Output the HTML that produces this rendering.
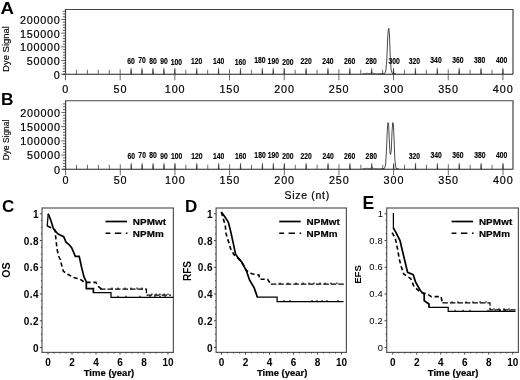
<!DOCTYPE html><html><head><meta charset="utf-8"><style>html,body{margin:0;padding:0;background:#fff}svg{display:block;filter:grayscale(1)}text{font-family:"Liberation Sans",sans-serif;fill:#000}</style></head><body>
<svg width="520" height="380" viewBox="0 0 520 380">
<rect width="520" height="380" fill="#fff"/>
<path d="M65.5 74.25 V9.5 H513 V74.25" fill="none" stroke="#444" stroke-width="1.2"/>
<path d="M62.5 74.25 H513" fill="none" stroke="#222" stroke-width="1.1"/>
<path d="M61.30 74.25H65.5M62.80 71.51H65.5M62.80 68.77H65.5M62.80 66.03H65.5M62.80 63.29H65.5M61.30 60.55H65.5M62.80 57.81H65.5M62.80 55.07H65.5M62.80 52.33H65.5M62.80 49.59H65.5M61.30 46.85H65.5M62.80 44.11H65.5M62.80 41.37H65.5M62.80 38.63H65.5M62.80 35.89H65.5M61.30 33.15H65.5M62.80 30.41H65.5M62.80 27.67H65.5M62.80 24.93H65.5M62.80 22.19H65.5M61.30 19.45H65.5M62.80 16.71H65.5M62.80 13.97H65.5M62.80 11.23H65.5" stroke="#333" stroke-width="0.8" fill="none"/>
<text x="60.6" y="78.65" font-size="10.8" text-anchor="end" letter-spacing="0.75" fill="#000" stroke="#000" stroke-width="0.2">0</text>
<text x="60.6" y="64.95" font-size="10.8" text-anchor="end" letter-spacing="0.75" fill="#000" stroke="#000" stroke-width="0.2">50000</text>
<text x="60.6" y="51.25" font-size="10.8" text-anchor="end" letter-spacing="0.75" fill="#000" stroke="#000" stroke-width="0.2">100000</text>
<text x="60.6" y="37.55" font-size="10.8" text-anchor="end" letter-spacing="0.75" fill="#000" stroke="#000" stroke-width="0.2">150000</text>
<text x="60.6" y="23.85" font-size="10.8" text-anchor="end" letter-spacing="0.75" fill="#000" stroke="#000" stroke-width="0.2">200000</text>
<path d="M65.50 69.25V80.25M76.44 69.75V74.25M87.37 69.75V74.25M98.31 69.75V74.25M109.24 69.75V74.25M120.17 69.25V80.25M131.11 69.75V74.25M142.04 69.75V74.25M152.98 69.75V74.25M163.91 69.75V74.25M174.85 69.25V80.25M185.78 69.75V74.25M196.72 69.75V74.25M207.66 69.75V74.25M218.59 69.75V74.25M229.52 69.25V80.25M240.46 69.75V74.25M251.39 69.75V74.25M262.33 69.75V74.25M273.26 69.75V74.25M284.20 69.25V80.25M295.13 69.75V74.25M306.07 69.75V74.25M317.00 69.75V74.25M327.94 69.75V74.25M338.88 69.25V80.25M349.81 69.75V74.25M360.75 69.75V74.25M371.68 69.75V74.25M382.61 69.75V74.25M393.55 69.25V80.25M404.48 69.75V74.25M415.42 69.75V74.25M426.35 69.75V74.25M437.29 69.75V74.25M448.22 69.25V80.25M459.16 69.75V74.25M470.09 69.75V74.25M481.03 69.75V74.25M491.96 69.75V74.25M502.90 69.25V80.25" stroke="#444" stroke-width="0.8" fill="none"/>
<text x="65.80" y="92.8" font-size="10.8" text-anchor="middle" letter-spacing="0.9" fill="#000" stroke="#000" stroke-width="0.2">0</text>
<text x="120.47" y="92.8" font-size="10.8" text-anchor="middle" letter-spacing="0.9" fill="#000" stroke="#000" stroke-width="0.2">50</text>
<text x="175.15" y="92.8" font-size="10.8" text-anchor="middle" letter-spacing="0.9" fill="#000" stroke="#000" stroke-width="0.2">100</text>
<text x="229.82" y="92.8" font-size="10.8" text-anchor="middle" letter-spacing="0.9" fill="#000" stroke="#000" stroke-width="0.2">150</text>
<text x="284.50" y="92.8" font-size="10.8" text-anchor="middle" letter-spacing="0.9" fill="#000" stroke="#000" stroke-width="0.2">200</text>
<text x="339.18" y="92.8" font-size="10.8" text-anchor="middle" letter-spacing="0.9" fill="#000" stroke="#000" stroke-width="0.2">250</text>
<text x="393.85" y="92.8" font-size="10.8" text-anchor="middle" letter-spacing="0.9" fill="#000" stroke="#000" stroke-width="0.2">300</text>
<text x="448.52" y="92.8" font-size="10.8" text-anchor="middle" letter-spacing="0.9" fill="#000" stroke="#000" stroke-width="0.2">350</text>
<text x="503.20" y="92.8" font-size="10.8" text-anchor="middle" letter-spacing="0.9" fill="#000" stroke="#000" stroke-width="0.2">400</text>
<text transform="translate(131.11 63.95) scale(0.8 1)" font-size="8.5" font-weight="bold" text-anchor="middle" fill="#000" stroke="#000" stroke-width="0.15">60</text>
<text transform="translate(142.04 63.15) scale(0.8 1)" font-size="8.5" font-weight="bold" text-anchor="middle" fill="#000" stroke="#000" stroke-width="0.15">70</text>
<text transform="translate(152.98 63.55) scale(0.8 1)" font-size="8.5" font-weight="bold" text-anchor="middle" fill="#000" stroke="#000" stroke-width="0.15">80</text>
<text transform="translate(163.91 64.25) scale(0.8 1)" font-size="8.5" font-weight="bold" text-anchor="middle" fill="#000" stroke="#000" stroke-width="0.15">90</text>
<text transform="translate(176.45 64.65) scale(0.8 1)" font-size="8.5" font-weight="bold" text-anchor="middle" fill="#000" stroke="#000" stroke-width="0.15">100</text>
<text transform="translate(196.72 63.95) scale(0.8 1)" font-size="8.5" font-weight="bold" text-anchor="middle" fill="#000" stroke="#000" stroke-width="0.15">120</text>
<text transform="translate(218.59 63.95) scale(0.8 1)" font-size="8.5" font-weight="bold" text-anchor="middle" fill="#000" stroke="#000" stroke-width="0.15">140</text>
<text transform="translate(240.46 64.65) scale(0.8 1)" font-size="8.5" font-weight="bold" text-anchor="middle" fill="#000" stroke="#000" stroke-width="0.15">160</text>
<text transform="translate(259.93 63.45) scale(0.8 1)" font-size="8.5" font-weight="bold" text-anchor="middle" fill="#000" stroke="#000" stroke-width="0.15">180</text>
<text transform="translate(273.26 63.75) scale(0.8 1)" font-size="8.5" font-weight="bold" text-anchor="middle" fill="#000" stroke="#000" stroke-width="0.15">190</text>
<text transform="translate(287.80 64.65) scale(0.8 1)" font-size="8.5" font-weight="bold" text-anchor="middle" fill="#000" stroke="#000" stroke-width="0.15">200</text>
<text transform="translate(306.07 64.15) scale(0.8 1)" font-size="8.5" font-weight="bold" text-anchor="middle" fill="#000" stroke="#000" stroke-width="0.15">220</text>
<text transform="translate(327.94 64.25) scale(0.8 1)" font-size="8.5" font-weight="bold" text-anchor="middle" fill="#000" stroke="#000" stroke-width="0.15">240</text>
<text transform="translate(349.55 64.25) scale(0.8 1)" font-size="8.5" font-weight="bold" text-anchor="middle" fill="#000" stroke="#000" stroke-width="0.15">260</text>
<text transform="translate(371.16 64.25) scale(0.8 1)" font-size="8.5" font-weight="bold" text-anchor="middle" fill="#000" stroke="#000" stroke-width="0.15">280</text>
<text transform="translate(394.15 64.25) scale(0.8 1)" font-size="8.5" font-weight="bold" text-anchor="middle" fill="#000" stroke="#000" stroke-width="0.15">300</text>
<text transform="translate(414.38 64.15) scale(0.8 1)" font-size="8.5" font-weight="bold" text-anchor="middle" fill="#000" stroke="#000" stroke-width="0.15">320</text>
<text transform="translate(435.99 63.35) scale(0.8 1)" font-size="8.5" font-weight="bold" text-anchor="middle" fill="#000" stroke="#000" stroke-width="0.15">340</text>
<text transform="translate(457.86 63.35) scale(0.8 1)" font-size="8.5" font-weight="bold" text-anchor="middle" fill="#000" stroke="#000" stroke-width="0.15">360</text>
<text transform="translate(479.73 63.45) scale(0.8 1)" font-size="8.5" font-weight="bold" text-anchor="middle" fill="#000" stroke="#000" stroke-width="0.15">380</text>
<text transform="translate(501.60 63.45) scale(0.8 1)" font-size="8.5" font-weight="bold" text-anchor="middle" fill="#000" stroke="#000" stroke-width="0.15">400</text>
<path d="M130.66 74.25L131.11 68.05L131.56 74.25M141.59 74.25L142.04 68.05L142.49 74.25M152.53 74.25L152.98 68.05L153.43 74.25M163.47 74.25L163.91 68.05L164.36 74.25M174.40 74.25L174.85 68.05L175.30 74.25M196.27 74.25L196.72 68.05L197.17 74.25M218.14 74.25L218.59 68.05L219.04 74.25M240.01 74.25L240.46 68.05L240.91 74.25M261.88 74.25L262.33 68.05L262.78 74.25M272.81 74.25L273.26 68.05L273.71 74.25M283.75 74.25L284.20 68.05L284.65 74.25M305.62 74.25L306.07 68.05L306.52 74.25M327.49 74.25L327.94 68.05L328.39 74.25M349.36 74.25L349.81 68.05L350.26 74.25M371.23 74.25L371.68 68.05L372.13 74.25M393.10 74.25L393.55 68.05L394.00 74.25M414.97 74.25L415.42 68.05L415.87 74.25M436.84 74.25L437.29 68.05L437.74 74.25M458.71 74.25L459.16 68.05L459.61 74.25M480.58 74.25L481.03 68.05L481.48 74.25M502.45 74.25L502.90 68.05L503.35 74.25" stroke="#333" stroke-width="0.4" fill="#333"/>
<path d="M378 74 L384.5 73.6 L385.8 71 L386.8 60 L387.6 40 L388.3 29.5 L388.9 28.3 L389.5 36 L390.2 55 L391 69 L392.3 73.5 L396 74" fill="none" stroke="#2a2a2a" stroke-width="0.85"/><path d="M362 74 L366 73.3 L370 73.5 L372 72.6 L374 73.6 L378 74" fill="none" stroke="#333" stroke-width="0.7"/>
<text transform="translate(0.6 13.9) scale(1.08 1)" font-size="17.3" font-weight="bold">A</text>
<text transform="translate(8.6 49) rotate(-90)" font-size="9.5" text-anchor="middle" fill="#000" stroke="#000" stroke-width="0.15">Dye Signal</text>
<path d="M65.6 169.25 V100.75 H513 V169.25" fill="none" stroke="#444" stroke-width="1.2"/>
<path d="M62.599999999999994 169.25 H513" fill="none" stroke="#222" stroke-width="1.1"/>
<path d="M61.40 169.25H65.6M62.90 166.41H65.6M62.90 163.57H65.6M62.90 160.73H65.6M62.90 157.89H65.6M61.40 155.05H65.6M62.90 152.21H65.6M62.90 149.37H65.6M62.90 146.53H65.6M62.90 143.69H65.6M61.40 140.85H65.6M62.90 138.01H65.6M62.90 135.17H65.6M62.90 132.33H65.6M62.90 129.49H65.6M61.40 126.65H65.6M62.90 123.81H65.6M62.90 120.97H65.6M62.90 118.13H65.6M62.90 115.29H65.6M61.40 112.45H65.6M62.90 109.61H65.6M62.90 106.77H65.6M62.90 103.93H65.6" stroke="#333" stroke-width="0.8" fill="none"/>
<text x="60.699999999999996" y="173.65" font-size="10.8" text-anchor="end" letter-spacing="0.75" fill="#000" stroke="#000" stroke-width="0.2">0</text>
<text x="60.699999999999996" y="159.45" font-size="10.8" text-anchor="end" letter-spacing="0.75" fill="#000" stroke="#000" stroke-width="0.2">50000</text>
<text x="60.699999999999996" y="145.25" font-size="10.8" text-anchor="end" letter-spacing="0.75" fill="#000" stroke="#000" stroke-width="0.2">100000</text>
<text x="60.699999999999996" y="131.05" font-size="10.8" text-anchor="end" letter-spacing="0.75" fill="#000" stroke="#000" stroke-width="0.2">150000</text>
<text x="60.699999999999996" y="116.85" font-size="10.8" text-anchor="end" letter-spacing="0.75" fill="#000" stroke="#000" stroke-width="0.2">200000</text>
<path d="M65.60 164.25V175.25M76.53 164.75V169.25M87.47 164.75V169.25M98.41 164.75V169.25M109.34 164.75V169.25M120.27 164.25V175.25M131.21 164.75V169.25M142.14 164.75V169.25M153.08 164.75V169.25M164.01 164.75V169.25M174.95 164.25V175.25M185.88 164.75V169.25M196.82 164.75V169.25M207.75 164.75V169.25M218.69 164.75V169.25M229.62 164.25V175.25M240.56 164.75V169.25M251.49 164.75V169.25M262.43 164.75V169.25M273.37 164.75V169.25M284.30 164.25V175.25M295.24 164.75V169.25M306.17 164.75V169.25M317.10 164.75V169.25M328.04 164.75V169.25M338.98 164.25V175.25M349.91 164.75V169.25M360.85 164.75V169.25M371.78 164.75V169.25M382.71 164.75V169.25M393.65 164.25V175.25M404.58 164.75V169.25M415.52 164.75V169.25M426.45 164.75V169.25M437.39 164.75V169.25M448.32 164.25V175.25M459.26 164.75V169.25M470.19 164.75V169.25M481.13 164.75V169.25M492.06 164.75V169.25M503.00 164.25V175.25" stroke="#444" stroke-width="0.8" fill="none"/>
<text x="65.90" y="184.4" font-size="10.8" text-anchor="middle" letter-spacing="0.9" fill="#000" stroke="#000" stroke-width="0.2">0</text>
<text x="120.57" y="184.4" font-size="10.8" text-anchor="middle" letter-spacing="0.9" fill="#000" stroke="#000" stroke-width="0.2">50</text>
<text x="175.25" y="184.4" font-size="10.8" text-anchor="middle" letter-spacing="0.9" fill="#000" stroke="#000" stroke-width="0.2">100</text>
<text x="229.92" y="184.4" font-size="10.8" text-anchor="middle" letter-spacing="0.9" fill="#000" stroke="#000" stroke-width="0.2">150</text>
<text x="284.60" y="184.4" font-size="10.8" text-anchor="middle" letter-spacing="0.9" fill="#000" stroke="#000" stroke-width="0.2">200</text>
<text x="339.28" y="184.4" font-size="10.8" text-anchor="middle" letter-spacing="0.9" fill="#000" stroke="#000" stroke-width="0.2">250</text>
<text x="393.95" y="184.4" font-size="10.8" text-anchor="middle" letter-spacing="0.9" fill="#000" stroke="#000" stroke-width="0.2">300</text>
<text x="448.62" y="184.4" font-size="10.8" text-anchor="middle" letter-spacing="0.9" fill="#000" stroke="#000" stroke-width="0.2">350</text>
<text x="503.30" y="184.4" font-size="10.8" text-anchor="middle" letter-spacing="0.9" fill="#000" stroke="#000" stroke-width="0.2">400</text>
<text transform="translate(131.21 158.55) scale(0.8 1)" font-size="8.5" font-weight="bold" text-anchor="middle" fill="#000" stroke="#000" stroke-width="0.15">60</text>
<text transform="translate(142.14 157.75) scale(0.8 1)" font-size="8.5" font-weight="bold" text-anchor="middle" fill="#000" stroke="#000" stroke-width="0.15">70</text>
<text transform="translate(153.08 158.15) scale(0.8 1)" font-size="8.5" font-weight="bold" text-anchor="middle" fill="#000" stroke="#000" stroke-width="0.15">80</text>
<text transform="translate(164.01 158.85) scale(0.8 1)" font-size="8.5" font-weight="bold" text-anchor="middle" fill="#000" stroke="#000" stroke-width="0.15">90</text>
<text transform="translate(176.55 159.25) scale(0.8 1)" font-size="8.5" font-weight="bold" text-anchor="middle" fill="#000" stroke="#000" stroke-width="0.15">100</text>
<text transform="translate(196.82 158.55) scale(0.8 1)" font-size="8.5" font-weight="bold" text-anchor="middle" fill="#000" stroke="#000" stroke-width="0.15">120</text>
<text transform="translate(218.69 158.55) scale(0.8 1)" font-size="8.5" font-weight="bold" text-anchor="middle" fill="#000" stroke="#000" stroke-width="0.15">140</text>
<text transform="translate(240.56 159.25) scale(0.8 1)" font-size="8.5" font-weight="bold" text-anchor="middle" fill="#000" stroke="#000" stroke-width="0.15">160</text>
<text transform="translate(260.03 158.05) scale(0.8 1)" font-size="8.5" font-weight="bold" text-anchor="middle" fill="#000" stroke="#000" stroke-width="0.15">180</text>
<text transform="translate(273.37 158.35) scale(0.8 1)" font-size="8.5" font-weight="bold" text-anchor="middle" fill="#000" stroke="#000" stroke-width="0.15">190</text>
<text transform="translate(287.90 159.25) scale(0.8 1)" font-size="8.5" font-weight="bold" text-anchor="middle" fill="#000" stroke="#000" stroke-width="0.15">200</text>
<text transform="translate(306.17 158.75) scale(0.8 1)" font-size="8.5" font-weight="bold" text-anchor="middle" fill="#000" stroke="#000" stroke-width="0.15">220</text>
<text transform="translate(328.04 158.85) scale(0.8 1)" font-size="8.5" font-weight="bold" text-anchor="middle" fill="#000" stroke="#000" stroke-width="0.15">240</text>
<text transform="translate(349.65 158.85) scale(0.8 1)" font-size="8.5" font-weight="bold" text-anchor="middle" fill="#000" stroke="#000" stroke-width="0.15">260</text>
<text transform="translate(371.26 158.85) scale(0.8 1)" font-size="8.5" font-weight="bold" text-anchor="middle" fill="#000" stroke="#000" stroke-width="0.15">280</text>
<text transform="translate(414.48 158.75) scale(0.8 1)" font-size="8.5" font-weight="bold" text-anchor="middle" fill="#000" stroke="#000" stroke-width="0.15">320</text>
<text transform="translate(436.09 157.95) scale(0.8 1)" font-size="8.5" font-weight="bold" text-anchor="middle" fill="#000" stroke="#000" stroke-width="0.15">340</text>
<text transform="translate(457.96 157.95) scale(0.8 1)" font-size="8.5" font-weight="bold" text-anchor="middle" fill="#000" stroke="#000" stroke-width="0.15">360</text>
<text transform="translate(479.83 158.05) scale(0.8 1)" font-size="8.5" font-weight="bold" text-anchor="middle" fill="#000" stroke="#000" stroke-width="0.15">380</text>
<text transform="translate(501.70 158.05) scale(0.8 1)" font-size="8.5" font-weight="bold" text-anchor="middle" fill="#000" stroke="#000" stroke-width="0.15">400</text>
<path d="M130.76 169.25L131.21 163.05L131.66 169.25M141.69 169.25L142.14 163.05L142.59 169.25M152.63 169.25L153.08 163.05L153.53 169.25M163.56 169.25L164.01 163.05L164.46 169.25M174.50 169.25L174.95 163.05L175.40 169.25M196.37 169.25L196.82 163.05L197.27 169.25M218.24 169.25L218.69 163.05L219.14 169.25M240.11 169.25L240.56 163.05L241.01 169.25M261.98 169.25L262.43 163.05L262.88 169.25M272.92 169.25L273.37 163.05L273.81 169.25M283.85 169.25L284.30 163.05L284.75 169.25M305.72 169.25L306.17 163.05L306.62 169.25M327.59 169.25L328.04 163.05L328.49 169.25M349.46 169.25L349.91 163.05L350.36 169.25M371.33 169.25L371.78 163.05L372.23 169.25M393.20 169.25L393.65 163.05L394.10 169.25M415.07 169.25L415.52 163.05L415.97 169.25M436.94 169.25L437.39 163.05L437.84 169.25M458.81 169.25L459.26 163.05L459.71 169.25M480.68 169.25L481.13 163.05L481.58 169.25M502.55 169.25L503.00 163.05L503.45 169.25" stroke="#333" stroke-width="0.4" fill="#333"/>
<path d="M380 169 L384.4 168.5 L385.6 165 L386.5 150 L387.3 130 L387.9 122.6 L388.6 123.5 L389.3 140 L390 153 L390.6 154.5 L391.3 150 L392 132 L392.7 122.6 L393.4 123.5 L394.1 140 L394.9 160 L396 168.5 L399 169" fill="none" stroke="#2a2a2a" stroke-width="0.85"/><path d="M362 169 L366 168.3 L370 168.5 L372 167.6 L374 168.6 L380 169" fill="none" stroke="#333" stroke-width="0.7"/>
<text transform="translate(0.9 105.1) scale(1.0 1)" font-size="17.3" font-weight="bold">B</text>
<text transform="translate(8.6 140) rotate(-90)" font-size="8.4" text-anchor="middle" fill="#000" stroke="#000" stroke-width="0.15">Dye Signal</text>
<text x="307.2" y="198.8" font-size="10.5" text-anchor="middle" letter-spacing="0.7" fill="#000" stroke="#000" stroke-width="0.2">Size (nt)</text>
<rect x="42.0" y="208" width="131.4" height="144.39999999999998" fill="none" stroke="#555" stroke-width="1.2"/>
<path d="M39.80 347.50H42.0M40.90 340.81H42.0M40.90 334.13H42.0M40.90 327.44H42.0M39.80 320.76H42.0M40.90 314.07H42.0M40.90 307.39H42.0M40.90 300.70H42.0M39.80 294.02H42.0M40.90 287.33H42.0M40.90 280.65H42.0M40.90 273.97H42.0M39.80 267.28H42.0M40.90 260.60H42.0M40.90 253.91H42.0M40.90 247.23H42.0M39.80 240.54H42.0M40.90 233.86H42.0M40.90 227.17H42.0M40.90 220.49H42.0M39.80 213.80H42.0M48.00 352.4V354.60M54.00 352.4V353.50M60.00 352.4V353.50M66.00 352.4V353.50M72.00 352.4V354.60M78.00 352.4V353.50M84.00 352.4V353.50M90.00 352.4V353.50M96.00 352.4V354.60M102.00 352.4V353.50M108.00 352.4V353.50M114.00 352.4V353.50M120.00 352.4V354.60M126.00 352.4V353.50M132.00 352.4V353.50M138.00 352.4V353.50M144.00 352.4V354.60M150.00 352.4V353.50M156.00 352.4V353.50M162.00 352.4V353.50M168.00 352.4V354.60" stroke="#333" stroke-width="0.9" fill="none"/>
<text x="39.0" y="351.50" font-size="10" font-weight="bold" text-anchor="end" letter-spacing="0.45" fill="#000">0</text>
<text x="39.0" y="324.76" font-size="10" font-weight="bold" text-anchor="end" letter-spacing="0.45" fill="#000">0.2</text>
<text x="39.0" y="298.02" font-size="10" font-weight="bold" text-anchor="end" letter-spacing="0.45" fill="#000">0.4</text>
<text x="39.0" y="271.28" font-size="10" font-weight="bold" text-anchor="end" letter-spacing="0.45" fill="#000">0.6</text>
<text x="39.0" y="244.54" font-size="10" font-weight="bold" text-anchor="end" letter-spacing="0.45" fill="#000">0.8</text>
<text x="39.0" y="217.80" font-size="10" font-weight="bold" text-anchor="end" letter-spacing="0.45" fill="#000">1</text>
<text x="48.00" y="365.6" font-size="10" font-weight="bold" text-anchor="middle">0</text>
<text x="72.00" y="365.6" font-size="10" font-weight="bold" text-anchor="middle">2</text>
<text x="96.00" y="365.6" font-size="10" font-weight="bold" text-anchor="middle">4</text>
<text x="120.00" y="365.6" font-size="10" font-weight="bold" text-anchor="middle">6</text>
<text x="144.00" y="365.6" font-size="10" font-weight="bold" text-anchor="middle">8</text>
<text x="168.00" y="365.6" font-size="10" font-weight="bold" text-anchor="middle">10</text>
<text x="109.0" y="376.2" font-size="9.5" font-weight="bold" text-anchor="middle" stroke="#000" stroke-width="0.2">Time (year)</text>
<text transform="translate(9.6 270.2) rotate(-90)" font-size="10.6" font-weight="bold" text-anchor="middle">OS</text>
<text x="1.9" y="212" font-size="17" font-weight="bold">C</text>
<path d="M47.3 226 L52 228 L55 230 L56 240 L57.2 250 L59 257 L60.3 259.5 L61.8 265.8 L63.4 271.3 L68.2 274.5 L73.7 277.6 L80 279.2 L84.7 282.4 H95.8 L99 287.1 L102.1 289.3" fill="none" stroke="#000" stroke-width="1.6" stroke-dasharray="4.2 2.8"/>
<path d="M100 289.2 H146.4 V295.1 H171" fill="none" stroke="#000" stroke-width="1.25" stroke-dasharray="5.5 2"/>
<path d="M48.2 213.7 L49.5 217 L51 220.8 L53.4 228.7 L57.4 233.4 L60 235 L63.7 236.6 L66 242.1 L69 244.5 L71.6 247.6 L73.5 252 L75.3 256.3 H79.2 L81.6 267.4 L84 276.9 L86.3 281.6 V288.7 H93.4 V292.6" fill="none" stroke="#000" stroke-width="1.7"/>
<path d="M92.8 292.5 H111 V297.4 H173.4 M48.2 213.7 L47.2 226.3" fill="none" stroke="#000" stroke-width="1.25"/>
<path d="M118 297.4v-1.6M126 297.4v-1.6M140 297.4v-1.6M150 297.4v-1.6M155 297.4v-1.6M160 297.4v-1.6M165 297.4v-1.6M112 289.2v-1.6M118 289.2v-1.6M125 289.2v-1.6M131 289.2v-1.6M137 289.2v-1.6M142 289.2v-1.6M152 295.1v-1.6M156 295.1v-1.6M160 295.1v-1.6M164 295.1v-1.6M168 295.1v-1.6" stroke="#000" stroke-width="1.1" fill="none"/>
<path d="M105.5 221.5h21.5" stroke="#000" stroke-width="1.7"/>
<path d="M105.5 233.3h4.8m4.6 0h6.4m4.6 0h1.6" stroke="#000" stroke-width="1.6"/>
<text x="132.8" y="225.0" font-size="9.9" font-weight="bold" letter-spacing="0.1" stroke="#000" stroke-width="0.2">NPMwt</text>
<text x="132.8" y="236.9" font-size="9.9" font-weight="bold" letter-spacing="0.1" stroke="#000" stroke-width="0.2">NPMm</text>
<rect x="216.1" y="208" width="130.29999999999998" height="144.39999999999998" fill="none" stroke="#555" stroke-width="1.2"/>
<path d="M213.90 347.50H216.1M215.00 340.81H216.1M215.00 334.13H216.1M215.00 327.44H216.1M213.90 320.76H216.1M215.00 314.07H216.1M215.00 307.39H216.1M215.00 300.70H216.1M213.90 294.02H216.1M215.00 287.33H216.1M215.00 280.65H216.1M215.00 273.97H216.1M213.90 267.28H216.1M215.00 260.60H216.1M215.00 253.91H216.1M215.00 247.23H216.1M213.90 240.54H216.1M215.00 233.86H216.1M215.00 227.17H216.1M215.00 220.49H216.1M213.90 213.80H216.1M221.50 352.4V354.60M227.50 352.4V353.50M233.50 352.4V353.50M239.50 352.4V353.50M245.50 352.4V354.60M251.50 352.4V353.50M257.50 352.4V353.50M263.50 352.4V353.50M269.50 352.4V354.60M275.50 352.4V353.50M281.50 352.4V353.50M287.50 352.4V353.50M293.50 352.4V354.60M299.50 352.4V353.50M305.50 352.4V353.50M311.50 352.4V353.50M317.50 352.4V354.60M323.50 352.4V353.50M329.50 352.4V353.50M335.50 352.4V353.50M341.50 352.4V354.60" stroke="#333" stroke-width="0.9" fill="none"/>
<text x="213.1" y="351.50" font-size="10" font-weight="bold" text-anchor="end" letter-spacing="0.45" fill="#000">0</text>
<text x="213.1" y="324.76" font-size="10" font-weight="bold" text-anchor="end" letter-spacing="0.45" fill="#000">0.2</text>
<text x="213.1" y="298.02" font-size="10" font-weight="bold" text-anchor="end" letter-spacing="0.45" fill="#000">0.4</text>
<text x="213.1" y="271.28" font-size="10" font-weight="bold" text-anchor="end" letter-spacing="0.45" fill="#000">0.6</text>
<text x="213.1" y="244.54" font-size="10" font-weight="bold" text-anchor="end" letter-spacing="0.45" fill="#000">0.8</text>
<text x="213.1" y="217.80" font-size="10" font-weight="bold" text-anchor="end" letter-spacing="0.45" fill="#000">1</text>
<text x="221.50" y="365.6" font-size="10" font-weight="bold" text-anchor="middle">0</text>
<text x="245.50" y="365.6" font-size="10" font-weight="bold" text-anchor="middle">2</text>
<text x="269.50" y="365.6" font-size="10" font-weight="bold" text-anchor="middle">4</text>
<text x="293.50" y="365.6" font-size="10" font-weight="bold" text-anchor="middle">6</text>
<text x="317.50" y="365.6" font-size="10" font-weight="bold" text-anchor="middle">8</text>
<text x="341.50" y="365.6" font-size="10" font-weight="bold" text-anchor="middle">10</text>
<text x="282.2" y="376.2" font-size="9.5" font-weight="bold" text-anchor="middle" stroke="#000" stroke-width="0.2">Time (year)</text>
<text transform="translate(191.4 271) rotate(-90)" font-size="10.0" font-weight="bold" text-anchor="middle">RFS</text>
<text x="185" y="212.3" font-size="17" font-weight="bold">D</text>
<path d="M221.3 212.1 L225.3 225.5 L226 233.4 L228.4 241.3 L230.8 249.2 L234 254.7 L238.7 258.7 L241.6 261.8 L246.3 270.5 L251.8 273.7 L259 275 L259.5 279.2 H267.6 L270.8 284.2" fill="none" stroke="#000" stroke-width="1.6" stroke-dasharray="4.2 2.8"/>
<path d="M270.8 284.0 H345.8" fill="none" stroke="#000" stroke-width="1.25" stroke-dasharray="5.5 2"/>
<path d="M221.3 212.1 L225 217 L228.4 222.4 L230.8 231.9 L233.2 242.9 L235.5 254 L238.7 258.7 L241.6 261.8 L246.3 270.5 L249.5 280 L254.2 287.9 L257.4 297.1" fill="none" stroke="#000" stroke-width="1.7"/>
<path d="M256.8 297.1 H277.1 V301.5 H343.5" fill="none" stroke="#000" stroke-width="1.25"/>
<path d="M284 301.5v-1.6M290 301.5v-1.6M312 301.5v-1.6M317 301.5v-1.6M322 301.5v-1.6M327 301.5v-1.6M338 301.5v-1.6M280 284.0v-1.6M288 284.0v-1.6M296 284.0v-1.6M303 284.0v-1.6M309 284.0v-1.6M314 284.0v-1.6M320 284.0v-1.6M325 284.0v-1.6M331 284.0v-1.6M337 284.0v-1.6" stroke="#000" stroke-width="1.1" fill="none"/>
<path d="M279.2 221.5h21.5" stroke="#000" stroke-width="1.7"/>
<path d="M279.2 233.3h4.8m4.6 0h6.4m4.6 0h1.6" stroke="#000" stroke-width="1.6"/>
<text x="306.5" y="225.0" font-size="9.9" font-weight="bold" letter-spacing="0.1" stroke="#000" stroke-width="0.2">NPMwt</text>
<text x="306.5" y="236.9" font-size="9.9" font-weight="bold" letter-spacing="0.1" stroke="#000" stroke-width="0.2">NPMm</text>
<rect x="386.7" y="208" width="131.7" height="144.39999999999998" fill="none" stroke="#555" stroke-width="1.2"/>
<path d="M384.50 347.50H386.7M385.60 340.81H386.7M385.60 334.13H386.7M385.60 327.44H386.7M384.50 320.76H386.7M385.60 314.07H386.7M385.60 307.39H386.7M385.60 300.70H386.7M384.50 294.02H386.7M385.60 287.33H386.7M385.60 280.65H386.7M385.60 273.97H386.7M384.50 267.28H386.7M385.60 260.60H386.7M385.60 253.91H386.7M385.60 247.23H386.7M384.50 240.54H386.7M385.60 233.86H386.7M385.60 227.17H386.7M385.60 220.49H386.7M384.50 213.80H386.7M392.70 352.4V354.60M398.70 352.4V353.50M404.70 352.4V353.50M410.70 352.4V353.50M416.70 352.4V354.60M422.70 352.4V353.50M428.70 352.4V353.50M434.70 352.4V353.50M440.70 352.4V354.60M446.70 352.4V353.50M452.70 352.4V353.50M458.70 352.4V353.50M464.70 352.4V354.60M470.70 352.4V353.50M476.70 352.4V353.50M482.70 352.4V353.50M488.70 352.4V354.60M494.70 352.4V353.50M500.70 352.4V353.50M506.70 352.4V353.50M512.70 352.4V354.60" stroke="#333" stroke-width="0.9" fill="none"/>
<text x="383.09999999999997" y="350.50" font-size="9.4" text-anchor="end" letter-spacing="0.25" fill="#222">0</text>
<text x="383.09999999999997" y="323.76" font-size="9.4" text-anchor="end" letter-spacing="0.25" fill="#222">0.2</text>
<text x="383.09999999999997" y="297.02" font-size="9.4" text-anchor="end" letter-spacing="0.25" fill="#222">0.4</text>
<text x="383.09999999999997" y="270.28" font-size="9.4" text-anchor="end" letter-spacing="0.25" fill="#222">0.6</text>
<text x="383.09999999999997" y="243.54" font-size="9.4" text-anchor="end" letter-spacing="0.25" fill="#222">0.8</text>
<text x="383.09999999999997" y="216.80" font-size="9.4" text-anchor="end" letter-spacing="0.25" fill="#222">1</text>
<text x="392.70" y="365.6" font-size="10" font-weight="bold" text-anchor="middle">0</text>
<text x="416.70" y="365.6" font-size="10" font-weight="bold" text-anchor="middle">2</text>
<text x="440.70" y="365.6" font-size="10" font-weight="bold" text-anchor="middle">4</text>
<text x="464.70" y="365.6" font-size="10" font-weight="bold" text-anchor="middle">6</text>
<text x="488.70" y="365.6" font-size="10" font-weight="bold" text-anchor="middle">8</text>
<text x="512.70" y="365.6" font-size="10" font-weight="bold" text-anchor="middle">10</text>
<text x="453.1" y="376.2" font-size="9.5" font-weight="bold" text-anchor="middle" stroke="#000" stroke-width="0.2">Time (year)</text>
<text transform="translate(361.2 274.5) rotate(-90)" font-size="9.6" font-weight="bold" text-anchor="middle">EFS</text>
<text x="362.4" y="209.0" font-size="17.6" font-weight="bold">E</text>
<path d="M392.1 232.6 L395.3 238.2 L397.6 249.2 L399.2 258.7 L401.3 266.8 L403.7 274 L410.8 278.7 L414 286.6 L420.3 292.1 L426.6 293.7 L431.3 296.6 H441 L442.4 302.8" fill="none" stroke="#000" stroke-width="1.6" stroke-dasharray="4.2 2.8"/>
<path d="M442.4 302.8 H490 V309.8 H515.5" fill="none" stroke="#000" stroke-width="1.25" stroke-dasharray="5.5 2"/>
<path d="M393.4 228 L396 232.6 L400 240.5 L402.4 250.8 L404.7 260.3 L407.6 272.4 L413.2 274.7 L415.5 281.8 L420.3 290.5 L424.2 294.5 V300.8 L429 304 V307.3" fill="none" stroke="#000" stroke-width="1.7"/>
<path d="M393.4 212.9 V228.7 M428.4 307.3 H448.2 V311.4 H515.5" fill="none" stroke="#000" stroke-width="1.25"/>
<path d="M455 311.4v-1.6M463 311.4v-1.6M470 311.4v-1.6M488 311.4v-1.6M495 311.4v-1.6M500 311.4v-1.6M505 311.4v-1.6M510 311.4v-1.6M452 302.8v-1.6M458 302.8v-1.6M466 302.8v-1.6M473 302.8v-1.6M480 302.8v-1.6M486 302.8v-1.6M494 309.8v-1.6M499 309.8v-1.6M504 309.8v-1.6M509 309.8v-1.6" stroke="#000" stroke-width="1.1" fill="none"/>
<path d="M451.6 221.5h21.5" stroke="#000" stroke-width="1.7"/>
<path d="M451.6 233.3h4.8m4.6 0h6.4m4.6 0h1.6" stroke="#000" stroke-width="1.6"/>
<text x="478.90000000000003" y="225.0" font-size="9.9" font-weight="bold" letter-spacing="0.1" stroke="#000" stroke-width="0.2">NPMwt</text>
<text x="478.90000000000003" y="236.9" font-size="9.9" font-weight="bold" letter-spacing="0.1" stroke="#000" stroke-width="0.2">NPMm</text>
</svg></body></html>
